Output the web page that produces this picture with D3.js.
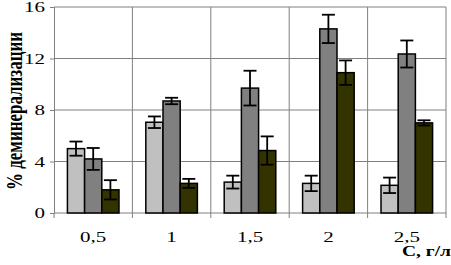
<!DOCTYPE html>
<html>
<head>
<meta charset="utf-8">
<script src="https://cdn.jsdelivr.net/npm/d3@7"></script>
<style>
body { margin: 0; background: #fff; }
svg, svg text { font-family: "Liberation Serif", "Times New Roman", serif; }
svg { display: block; }
</style>
</head>
<body>
<div id="chart"></div>
<script>
var categories = ["0,5", "1", "1,5", "2", "2,5"];
var series1 = [5.0, 7.05, 2.4, 2.3, 2.15];
var series2 = [4.2, 8.7, 9.7, 14.3, 12.35];
var series3 = [1.8, 2.3, 4.85, 10.9, 7.0];
var err1 = [0.55, 0.45, 0.5, 0.6, 0.6];
var err2 = [0.85, 0.25, 1.35, 1.1, 1.05];
var err3 = [0.75, 0.35, 1.1, 0.95, 0.2];
var yTicks = [0, 4, 8, 12, 16];

function init(){
    var w = 451, h = 265;
    var left = 54, right = 446, top = 7, bottom = 213;
    var font = "'Liberation Serif', 'Times New Roman', serif";
    var sx = 1.4; // text in the picture is stretched horizontally

    var svg = d3.select("#chart").append("svg")
        .attr("width", w).attr("height", h);

    var x = d3.scaleBand().domain(categories).range([left, right]);
    var xs = d3.scaleBand().domain([0, 1, 2])
        .range([0, x.bandwidth()]).paddingOuter(0.78).paddingInner(0);
    var y = d3.scaleLinear().domain([0, 16]).range([bottom, top]);

    // grid
    svg.append("g").selectAll("line").data(yTicks.slice(1)).enter().append("line")
        .attr("x1", left).attr("x2", right)
        .attr("y1", d => y(d)).attr("y2", d => y(d))
        .attr("stroke", "#808080").attr("stroke-width", 1);
    svg.append("g").selectAll("line").data(categories.slice(1)).enter().append("line")
        .attr("x1", d => x(d)).attr("x2", d => x(d))
        .attr("y1", top).attr("y2", bottom + 5)
        .attr("stroke", "#808080").attr("stroke-width", 1);
    svg.append("line").attr("x1", right).attr("x2", right)
        .attr("y1", top).attr("y2", bottom + 5)
        .attr("stroke", "#808080");

    // axes
    var yAxis = d3.axisLeft(y).tickValues(yTicks).tickSize(4);
    svg.append("g").attr("transform", "translate(" + left + ",0)").call(yAxis)
        .attr("font-family", font).attr("font-size", 15)
        .call(g => g.selectAll("text").attr("fill", "#000")
            .attr("x", -9 / sx).attr("transform", "scale(" + sx + ",1)"))
        .call(g => g.selectAll("line,path").attr("stroke", "#808080"));
    svg.append("line").attr("x1", left).attr("x2", right)
        .attr("y1", bottom).attr("y2", bottom).attr("stroke", "#808080");
    svg.append("line").attr("x1", left).attr("x2", left)
        .attr("y1", bottom).attr("y2", bottom + 5).attr("stroke", "#808080");

    svg.append("g").selectAll("text").data(categories).enter().append("text")
        .attr("transform", d => "translate(" + (x(d) + x.bandwidth() / 2) + ",242) scale(" + sx + ",1)")
        .attr("text-anchor", "middle")
        .attr("font-family", font)
        .attr("font-size", 15)
        .text(d => d);

    var colors = ["#c0c0c0", "#808080", "#333300"];
    var vals = [series1, series2, series3];
    var errs = [err1, err2, err3];

    for (var s = 0; s < 3; s++){
        var data = categories.map(function(c, i){ return {c: c, v: vals[s][i], e: errs[s][i]}; });
        var g = svg.append("g");
        g.selectAll("rect").data(data).enter().append("rect")
            .attr("x", d => x(d.c) + xs(s))
            .attr("y", d => y(d.v))
            .attr("width", xs.bandwidth())
            .attr("height", d => bottom - y(d.v))
            .attr("fill", colors[s])
            .attr("stroke", "#000")
            .attr("stroke-width", 1.5);
        var cx = function(d){ return x(d.c) + xs(s) + xs.bandwidth() / 2; };
        g.selectAll("line.v").data(data).enter().append("line")
            .attr("x1", cx).attr("x2", cx)
            .attr("y1", d => y(d.v + d.e)).attr("y2", d => y(d.v - d.e))
            .attr("stroke", "#000").attr("stroke-width", 1.8);
        [1, -1].forEach(function(sg){
            g.selectAll(null).data(data).enter().append("line")
                .attr("x1", d => cx(d) - 6.5).attr("x2", d => cx(d) + 6.5)
                .attr("y1", d => y(d.v + sg * d.e)).attr("y2", d => y(d.v + sg * d.e))
                .attr("stroke", "#000").attr("stroke-width", 1.8);
        });
    }

    svg.append("text")
        .attr("transform", "translate(22,111) rotate(-90) scale(1,1.5)")
        .attr("text-anchor", "middle")
        .attr("font-family", font)
        .attr("font-size", 16)
        .attr("font-weight", "bold")
        .attr("textLength", 158)
        .attr("lengthAdjust", "spacingAndGlyphs")
        .text("% деминерализации");

    svg.append("text")
        .attr("transform", "translate(451,256) scale(1.3,1)")
        .attr("text-anchor", "end")
        .attr("font-family", font)
        .attr("font-size", 15)
        .attr("font-weight", "bold")
        .text("С, г/л");
}
window.onload = init;
</script>
</body>
</html>
